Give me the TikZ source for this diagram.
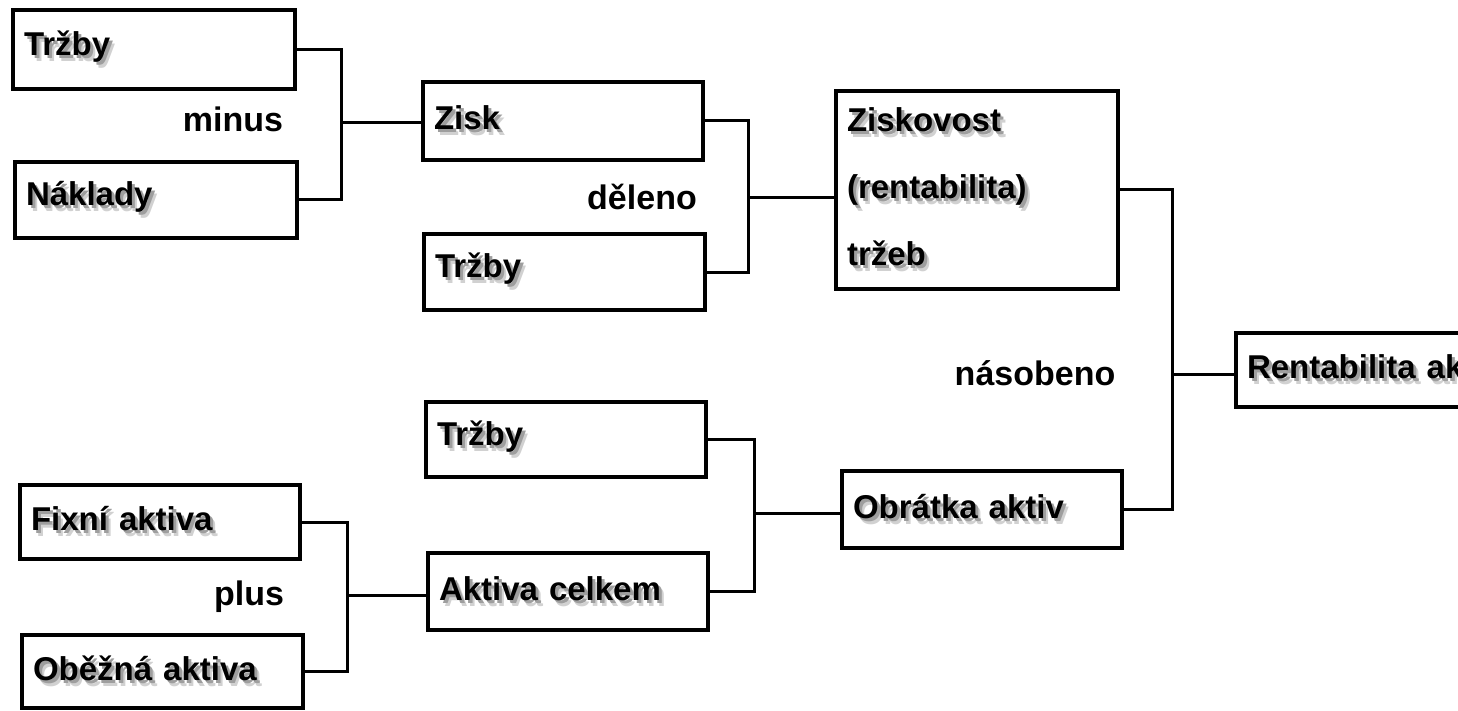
\documentclass[tikz,border=0pt]{standalone}
\usepackage{fontspec}
\setmainfont{Liberation Sans}
\newcommand\shd[1]{\makebox[0pt][l]{\hspace{5pt}\raisebox{-6pt}{\color{black!18}#1}}\makebox[0pt][l]{\hspace{3pt}\raisebox{-3pt}{\color{black!38}#1}}#1}
\tikzset{
  box/.style={draw, line width=3.6pt, inner xsep=11pt, inner ysep=0pt, align=left,
    font=\fontsize{33}{67}\selectfont\bfseries},
  lbl/.style={inner sep=0pt, font=\fontsize{34}{40}\selectfont\bfseries},
  wire/.style={line width=3pt}
}
\begin{document}
\begin{tikzpicture}[x=1pt,y=-1pt]
\useasboundingbox (0,0) rectangle (1458,711);
\clip (0,0) rectangle (1458,711);
\fill[white] (0,0) rectangle (1458,711);
% boxes
\node[box, text width=260pt, minimum height=79pt] (t1) at (154,49.5) {\shd{Tržby}};
\node[box, text width=260pt, minimum height=76pt] (nak) at (156,200) {\shd{Náklady}};
\node[box, text width=258pt, minimum height=78pt] (zisk) at (563,121) {\shd{Zisk}};
\node[box, text width=259pt, minimum height=76pt] (t2) at (564.5,272) {\shd{Tržby}};
\node[box, text width=260pt, minimum height=198pt] (zv) at (977,190) {\shd{Ziskovost}\\\shd{(rentabilita)}\\\shd{tržeb}};
\node[box, text width=272pt, minimum height=74pt] (ra) at (1383,370) {\shd{Rentabilita aktiv}};
\node[box, text width=258pt, minimum height=75pt] (t3) at (566,439.5) {\shd{Tržby}};
\node[box, text width=258pt, minimum height=77pt] (ob) at (982,509.5) {\shd{Obrátka aktiv}};
\node[box, text width=258pt, minimum height=74pt] (fix) at (160,522) {\shd{Fixní aktiva}};
\node[box, text width=258pt, minimum height=77pt] (ak) at (568,591.5) {\shd{Aktiva celkem}};
\node[box, text width=259pt, minimum height=73pt] (obe) at (162.5,671.5) {\shd{Oběžná aktiva}};
% junctions
\coordinate (j1) at (341,123);
\coordinate (j2) at (748,198);
\coordinate (j3) at (1172,374);
\coordinate (j4) at (754,513);
\coordinate (j5) at (347,595);
% connectors
\draw[wire] (t1.east) -| (j1) |- (nak.east);
\draw[wire] (j1) -- (j1 -| zisk.west);
\draw[wire] (zisk.east) -| (j2) |- (t2.east);
\draw[wire] (j2) -- (j2 -| zv.west);
\draw[wire] (zv.east) -| (j3) |- (ob.east);
\draw[wire] (j3) -- (j3 -| ra.west);
\draw[wire] (t3.east) -| (j4) |- (ak.east);
\draw[wire] (j4) -- (j4 -| ob.west);
\draw[wire] (fix.east) -| (j5) |- (obe.east);
\draw[wire] (j5) -- (j5 -| ak.west);
% operation labels
\node[lbl] (lminus) at (233,119) {minus};
\node[lbl] (ldel) at (642,197) {děleno};
\node[lbl] (lnas) at (1035,373) {násobeno};
\node[lbl] (lplus) at (249,597) {plus};
\end{tikzpicture}
\end{document}
